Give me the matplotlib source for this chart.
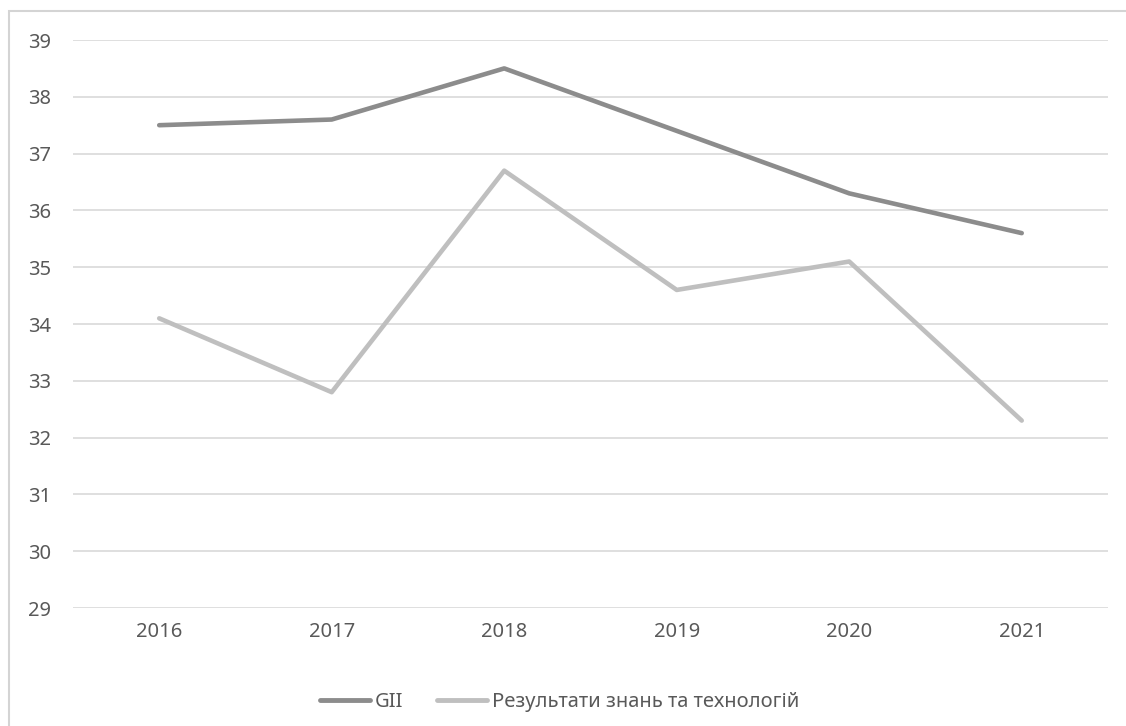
import matplotlib
matplotlib.use("Agg")
import matplotlib.pyplot as plt
from matplotlib.patches import Rectangle

years = ['2016', '2017', '2018', '2019', '2020', '2021']
gii = [37.5, 37.6, 38.5, 37.4, 36.3, 35.6]
knowledge = [34.1, 32.8, 36.7, 34.6, 35.1, 32.3]

plt.rcParams['font.family'] = ['Noto Sans', 'DejaVu Sans']
text_color = '#595959'
fs = 14.5

fig = plt.figure(figsize=(11.26, 7.26), dpi=100)
ax = fig.add_axes([0.0648, 0.1625, 0.9192, 0.7824])

x = range(len(years))
ax.plot(x, gii, color='#8c8c8c', lw=3.3, solid_capstyle='round', solid_joinstyle='round', label='GII', zorder=3)
ax.plot(x, knowledge, color='#bfbfbf', lw=3.3, solid_capstyle='round', solid_joinstyle='round',
        label='Результати знань та технологій', zorder=3)

ax.set_xlim(-0.5, len(years) - 0.5)
ax.set_ylim(29, 39)
ax.set_yticks(range(29, 40))
ax.set_xticks(list(x))
ax.set_xticklabels(years)
ax.grid(axis='y', color='#d9d9d9', lw=1.2)
ax.set_axisbelow(True)
for s in ax.spines.values():
    s.set_visible(False)
ax.tick_params(length=0, labelsize=fs, colors=text_color)
ax.tick_params(axis='y', pad=16)
ax.tick_params(axis='x', pad=10)

leg = fig.legend(loc='center', bbox_to_anchor=(0.497, 0.033), ncol=2, frameon=False,
                 fontsize=fs, handlelength=2.45, handletextpad=0.25, columnspacing=1.7)
for t in leg.get_texts():
    t.set_color(text_color)
for h in leg.get_lines():
    h.set_linewidth(3.5)

# chart border
fig.patches.append(Rectangle((9 / 1126, -0.05), 1.2, 1 - 11 / 726 + 0.05, transform=fig.transFigure,
                             fill=False, edgecolor='#d4d4d4', lw=1.5))

fig.savefig('out.png', dpi=100)
